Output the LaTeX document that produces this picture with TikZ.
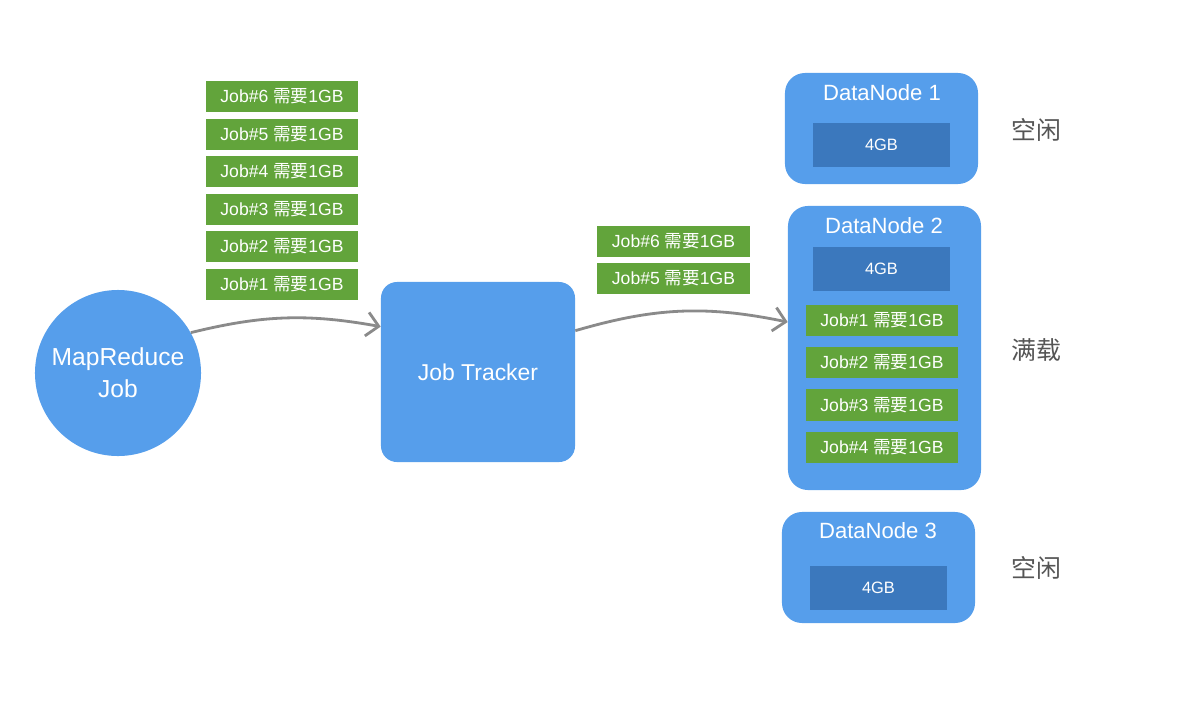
\documentclass[tikz,border=0pt]{standalone}
\usepackage{fontspec}
\setmainfont{Liberation Sans}
\newfontfamily\cjk{Noto Sans CJK SC}
\usepackage{xcolor}
\usetikzlibrary{arrows.meta, positioning, calc}

\definecolor{nodeblue}{HTML}{569EEB}
\definecolor{memblue}{HTML}{3B78BD}
\definecolor{jobgreen}{HTML}{62A43B}
\definecolor{flowgray}{HTML}{8A8A8A}
\definecolor{stategray}{HTML}{555555}

\tikzset{
  jobbox/.style={fill=jobgreen, text=white, minimum width=3.8cm, minimum height=0.78cm,
    inner sep=0pt, font=\fontsize{12.5}{15}\selectfont},
  nodebox/.style={fill=nodeblue, rounded corners=0.5cm, minimum width=4.825cm, inner sep=0pt},
  membox/.style={fill=memblue, text=white, minimum width=3.425cm, minimum height=1.12cm,
    inner sep=0pt, font=\fontsize{11.7}{14}\selectfont},
  nodetitle/.style={text=white, font=\fontsize{15.7}{18}\selectfont},
  statelabel/.style={text=stategray, font=\cjk\fontsize{17.7}{20}\selectfont},
  flow/.style={draw=flowgray, line width=2pt, -{Straight Barb[length=8.5pt,width=17pt,line width=2pt]}}
}

\newcommand{\jobneed}[1]{Job\##1 {\cjk 需要}1GB}

\begin{document}
\begin{tikzpicture}[x=0.025cm, y=-0.025cm]
  \useasboundingbox (0,0) rectangle (1178,704);

  % client side
  \node[circle, fill=nodeblue, minimum size=4.15cm, inner sep=0pt, text=white, align=center,
        font=\fontsize{17.5}{22.7}\selectfont] (mr) at (118,373) {MapReduce\\Job};

  \node[jobbox] (Wait6) at (282,96.5) {\jobneed{6}};
  \node[jobbox] (Wait5) at (282,134.5) {\jobneed{5}};
  \node[jobbox] (Wait4) at (282,171.5) {\jobneed{4}};
  \node[jobbox] (Wait3) at (282,209.5) {\jobneed{3}};
  \node[jobbox] (Wait2) at (282,246.5) {\jobneed{2}};
  \node[jobbox] (Wait1) at (282,284.5) {\jobneed{1}};

  % scheduler
  \node[fill=nodeblue, rounded corners=0.4cm, minimum width=4.85cm, minimum height=4.5cm,
        text=white, font=\fontsize{16.3}{19}\selectfont] (jt) at (478,372) {Job Tracker};

  \node[jobbox] (Queue6) at (673.5,241.5) {\jobneed{6}};
  \node[jobbox] (Queue5) at (673.5,278.5) {\jobneed{5}};

  % data nodes
  \node[nodebox, minimum height=2.775cm] (dn1) at (881.5,128.5) {};
  \node[nodetitle] (Titolo1) at (882,93) {DataNode 1};
  \node[membox] (Mem1) at (881.5,145) {4GB};

  \node[nodebox, minimum height=7.1cm] (dn2) at (884.5,348) {};
  \node[nodetitle] (Titolo2) at (884,226) {DataNode 2};
  \node[membox] (Mem2) at (881.5,269) {4GB};
  \node[jobbox] (Run1) at (882,320.5) {\jobneed{1}};
  \node[jobbox] (Run2) at (882,362.5) {\jobneed{2}};
  \node[jobbox] (Run3) at (882,405) {\jobneed{3}};
  \node[jobbox] (Run4) at (882,447.5) {\jobneed{4}};

  \node[nodebox, minimum height=2.775cm] (dn3) at (878.5,567.5) {};
  \node[nodetitle] (Titolo3) at (878,531) {DataNode 3};
  \node[membox] (Mem3) at (878.5,588) {4GB};

  \node[statelabel] (Stato1) at (1036,130) {空闲};
  \node[statelabel] (Stato2) at (1036,350) {满载};
  \node[statelabel] (Stato3) at (1036,568) {空闲};

  \draw[flow] (mr.29) to[bend left=12] (jt.155);
  \draw[flow] (jt.23) to[bend left=14] (dn2.165);
\end{tikzpicture}
\end{document}
